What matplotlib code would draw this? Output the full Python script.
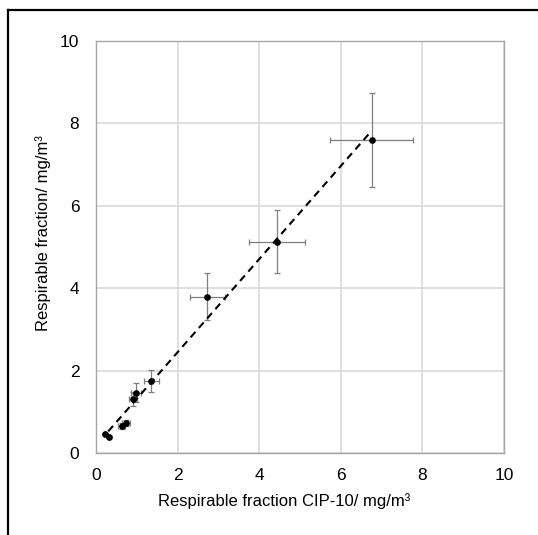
import matplotlib
matplotlib.use("Agg")
import matplotlib.pyplot as plt
from matplotlib.lines import Line2D

plt.rcParams['font.family'] = ['Liberation Sans', 'DejaVu Sans']

# data
x_cip = [0.22, 0.32, 0.63, 0.74, 0.91, 0.99, 1.36, 2.73, 4.44, 6.76]
y_resp = [0.46, 0.39, 0.66, 0.72, 1.30, 1.46, 1.75, 3.79, 5.13, 7.60]
x_err = [0.03, 0.03, 0.08, 0.10, 0.10, 0.12, 0.18, 0.42, 0.68, 1.02]
y_err = [0.03, 0.03, 0.07, 0.07, 0.17, 0.23, 0.26, 0.57, 0.77, 1.15]
fit_slope = 1.13
fit_intercept = 0.186
fit_x = [0.30, 6.76]
ticks = [0, 2, 4, 6, 8, 10]
x_label = 'Respirable fraction CIP-10/ mg/m³'
y_label = 'Respirable fraction/ mg/m³'

fig = plt.figure(figsize=(5.38, 5.35), dpi=100)
ax = fig.add_axes([96/538, 1-453/535, 408/538, 412/535])

ax.errorbar(x_cip, y_resp, xerr=x_err, yerr=y_err, fmt='none',
            ecolor='#7f7f7f', elinewidth=0.9, capsize=2.5, capthick=0.9, zorder=3)
ax.plot(x_cip, y_resp, 'o', color='black', markersize=3.8, zorder=4)
ax.plot(fit_x, [fit_slope*v + fit_intercept for v in fit_x], '--',
        color='black', linewidth=1.5, dashes=(3.5, 2.5), zorder=5)

ax.set_xlim(0, 10)
ax.set_ylim(0, 10)
ax.set_xticks(ticks)
ax.set_yticks(ticks)
ax.grid(True, color='#d9d9d9', linewidth=1.2)
ax.set_axisbelow(True)
for s in ax.spines.values():
    s.set_color('#a6a6a6')
    s.set_linewidth(1.0)
ax.tick_params(length=0, labelsize=12.5, colors='black')
ax.tick_params(axis='x', pad=11)
ax.tick_params(axis='y', pad=12)

fig.text(284/538, 1-501/535, x_label, fontsize=12, ha='center', va='center')
fig.text(43/538, 1-233/535, y_label, fontsize=12, ha='center', va='center',
         rotation=90)

# outer frame (left and top)
fig.add_artist(Line2D([8/538, 8/538], [0, 1-10/535], color='black', linewidth=1.6,
                      transform=fig.transFigure))
fig.add_artist(Line2D([8/538, 1], [1-10/535, 1-10/535], color='black', linewidth=1.6,
                      transform=fig.transFigure))

fig.savefig('out.png', dpi=100)
